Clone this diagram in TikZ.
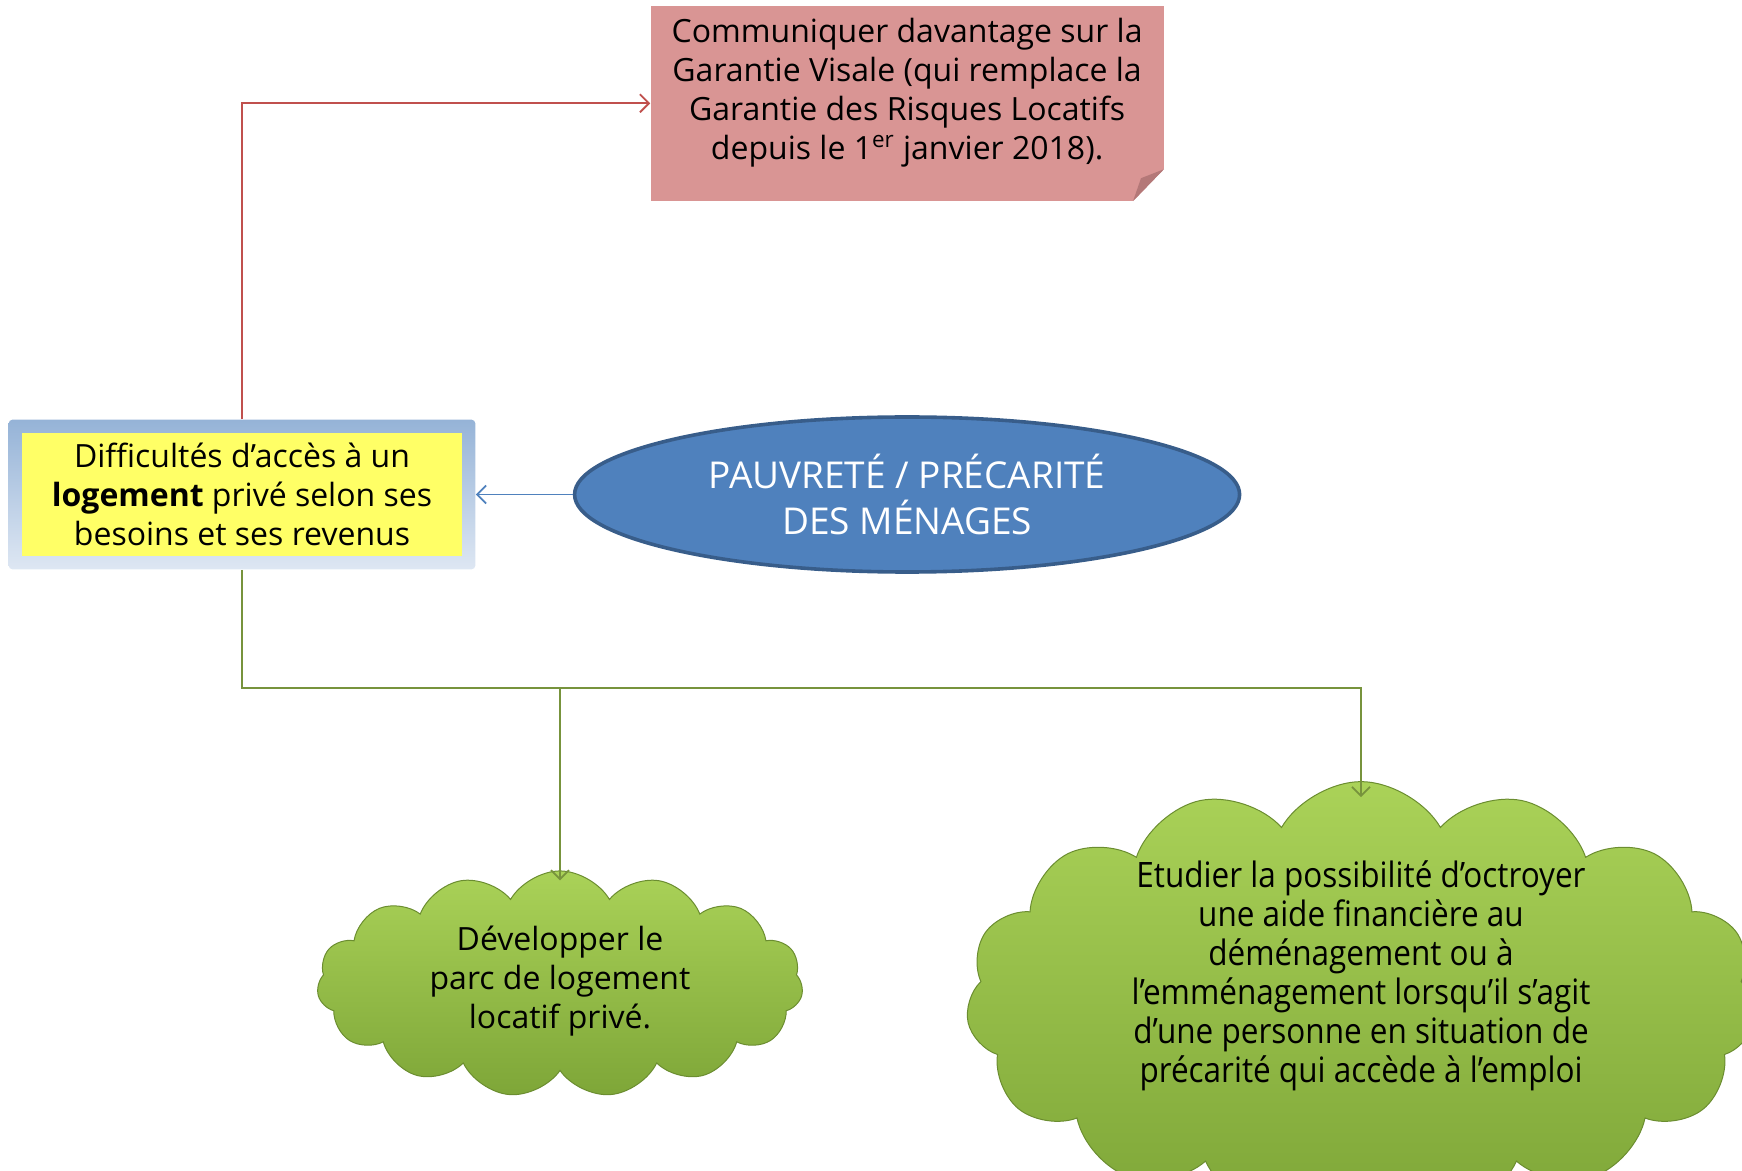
\documentclass[tikz,border=0pt]{standalone}
\usepackage{fontspec}
\setmainfont{Open Sans}
\newfontfamily\serree[FakeStretch=0.9]{Open Sans}
\usetikzlibrary{arrows.meta,positioning,fit,backgrounds,shapes.geometric,shapes.symbols}

\definecolor{rose}{RGB}{217,149,148}
\definecolor{pli}{RGB}{180,120,120}
\definecolor{jaune}{RGB}{255,255,102}
\definecolor{bleu}{RGB}{79,129,189}
\definecolor{bleufonce}{RGB}{56,93,138}
\definecolor{cadrehaut}{RGB}{149,179,215}
\definecolor{cadrebas}{RGB}{222,231,243}
\definecolor{rouge}{RGB}{192,80,77}
\definecolor{vert}{RGB}{119,147,60}
\definecolor{herbe}{RGB}{170,210,88}
\definecolor{herbefonce}{RGB}{126,166,56}

\begin{document}
\begin{tikzpicture}[x=0.5pt,y=-0.5pt,>={Straight Barb[length=4.5pt,width=9pt]}]
  \tikzset{texte/.style={font=\fontsize{16}{19.5}\selectfont, align=center},
    note/.style={texte, fill=rose, minimum width=256.5pt, minimum height=97.5pt},
    nuage/.style={texte, cloud, cloud puffs=15, cloud puff arc=120,
      cloud ignores aspect, top color=herbe, bottom color=herbefonce,
      draw=herbefonce!85!black, line width=0.5pt},
    lien/.style={line width=0.9pt, ->}}
  \useasboundingbox (0,0) rectangle (1742,1171);

  \node[texte, fill=jaune, minimum width=220pt, minimum height=61.5pt] (probleme)
    at (242,494.5) {Difficultés d’accès à un\\\textbf{logement} privé selon ses\\besoins et ses revenus};
  \begin{scope}[on background layer]
    \node[fit=(probleme), inner sep=6.5pt, rounded corners=2pt, top color=cadrehaut,
      bottom color=cadrebas] (cadre) {};
  \end{scope}
  \node[ellipse, fill=bleu, draw=bleufonce, line width=1.8pt, text=white,
    font=\fontsize{18.5}{22.8}\selectfont, align=center, minimum width=332.5pt,
    minimum height=77.5pt, right=48.5pt of cadre] (menages) {PAUVRETÉ / PRÉCARITÉ\\DES MÉNAGES};
  \node[note, above=107pt of menages] (garantie) {Communiquer davantage sur la\\Garantie
    Visale (qui remplace la\\Garantie des Risques Locatifs\\depuis le 1\textsuperscript{er}
    janvier 2018).\rule[-14pt]{0pt}{14pt}};
  % coin replie
  \fill[white] (garantie.south east) -- ++(0,-32) -- ++(-31,32) -- cycle;
  \fill[pli] ([yshift=16pt]garantie.south east) -- ++(-31,32) -- ++(8,-23) -- cycle;

  \node[nuage, minimum width=243pt, minimum height=104.5pt] (parc) at (560,984)
    {Développer le\\parc de logement\\locatif privé.\rule[-7pt]{0pt}{7pt}};
  \node[nuage, font=\serree\fontsize{17.5}{19.5}\selectfont, minimum width=395pt,
    inner ysep=-5pt] (aide) at (1361,1000) {Etudier la possibilité d’octroyer\\une aide
    financière au\\déménagement ou à\\l’emménagement lorsqu’il s’agit\\d’une personne en
    situation de\\précarité qui accède à l’emploi\rule[-28pt]{0pt}{28pt}};

  \coordinate (embranchement) at ([yshift=-59pt]cadre.south);
  \draw[lien, rouge] (cadre.north) |- (garantie.west);
  \draw[lien, bleu] (menages.west) -- (cadre.east);
  \draw[lien, vert, shorten >=-8pt] (cadre.south) -- (embranchement) -| (aide.north);
  \draw[lien, vert, shorten >=-5pt] (embranchement) -| (parc.north);
\end{tikzpicture}
\end{document}
